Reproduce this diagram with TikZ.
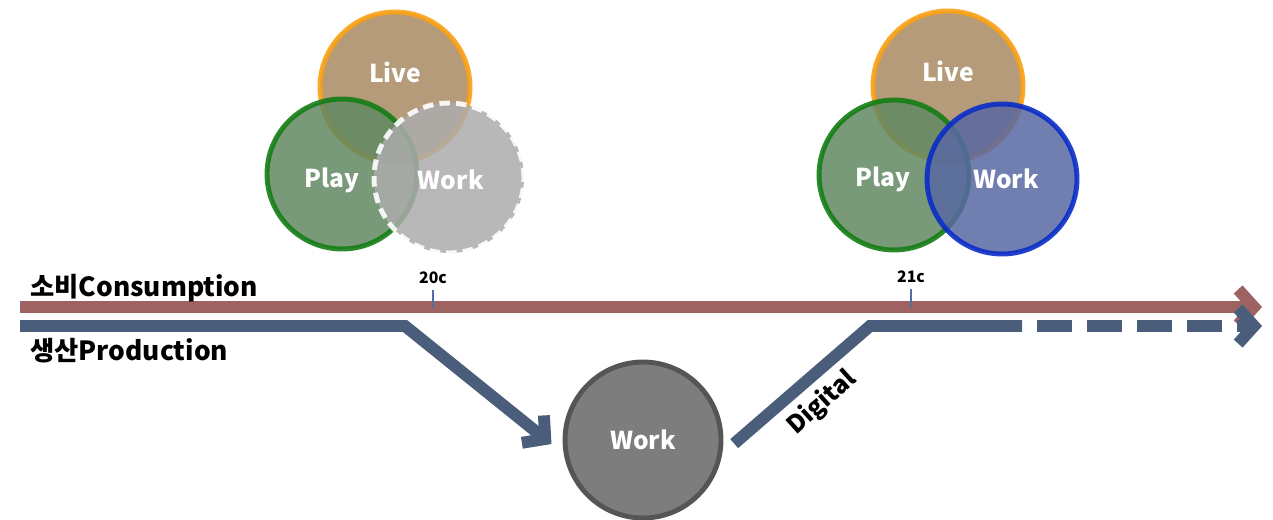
\documentclass[tikz,border=0pt]{standalone}
\usepackage{fontspec}
\setmainfont{Noto Sans CJK KR}
\usetikzlibrary{arrows.meta}

\definecolor{liveFill}{RGB}{168,138,98}
\definecolor{liveLine}{RGB}{250,160,20}
\definecolor{playFill}{RGB}{96,136,96}
\definecolor{playLine}{RGB}{20,125,20}
\definecolor{workGray}{RGB}{172,172,172}
\definecolor{workFill}{RGB}{88,104,162}
\definecolor{workLine}{RGB}{10,45,200}
\definecolor{lowFill}{RGB}{125,125,125}
\definecolor{lowLine}{RGB}{85,85,85}
\definecolor{consCol}{RGB}{158,98,98}
\definecolor{prodCol}{RGB}{74,94,124}
\definecolor{tickCol}{RGB}{80,110,170}

\tikzset{
  venn/.style={circle, inner sep=0pt, minimum size=3cm, line width=2.8pt,
    fill opacity=0.85, draw opacity=0.9},
  vtext/.style={text=white, text opacity=1, font=\bfseries\fontsize{14}{14}\selectfont},
  band/.style={line width=6.8pt, -{Straight Barb[length=9pt, width=20pt]}},
  axislabel/.style={anchor=west, font=\bfseries\fontsize{15}{15}\selectfont},
  century/.style={font=\bfseries\fontsize{9}{9}\selectfont},
  centtick/.style={tickCol, line width=0.6pt},
}

\begin{document}
\begin{tikzpicture}[x=0.02cm, y=-0.02cm]
    \useasboundingbox (0,0) rectangle (1273,520);

    % 20c: Live / Play / Work
    \node[venn, fill=liveFill, draw=liveLine, label={[vtext, yshift=8pt]center:Live}] (liveOld) at (395,87) {};
    \node[venn, fill=playFill, draw=playLine, label={[vtext, xshift=-5.7pt, yshift=-3.5pt]center:Play}] (playOld) at (342,174) {};
    \node[venn, fill=workGray, draw=white, dash pattern=on 6pt off 3.5pt,
      label={[vtext, xshift=1pt, yshift=-1pt]center:Work}] (workOld) at (449,178) {};

    % 21c: Live / Play / Work
    \node[venn, fill=liveFill, draw=liveLine, label={[vtext, yshift=8.5pt]center:Live}] (liveNew) at (948,86) {};
    \node[venn, fill=playFill, draw=playLine, label={[vtext, xshift=-6.3pt, yshift=-2.5pt]center:Play}] (playNew) at (894,175) {};
    \node[venn, fill=workFill, draw=workLine, label={[vtext, xshift=2.3pt]center:Work}] (workNew) at (1002,179) {};

    % Work below the time line
    \node[venn, vtext, minimum size=3.12cm, fill=lowFill, draw=lowLine,
      fill opacity=1, draw opacity=1] (workLow) at (643,440) {Work};

    % consumption line
    \coordinate (consStart) at (20,307);
    \coordinate (consEnd) at (1262,307);
    \draw[band, consCol] (consStart) -- (consEnd);

    % production line
    \coordinate (prodStart) at (20,326);
    \coordinate (prodFall) at (405,326);
    \coordinate (prodRise) at (870,326);
    \coordinate (prodDash) at (1022,326);
    \coordinate (prodEnd) at (1262,326);
    \draw[band, prodCol, shorten >=9pt] (prodStart) -- (prodFall) -- (workLow.190);
    \draw[line width=6.8pt, prodCol, shorten <=9pt] (workLow.-10) -- (prodRise) -- (prodDash);
    \draw[band, prodCol, dash pattern=on 20pt off 8.5pt, dash phase=20pt] (prodDash) -- (prodEnd);

    \node[axislabel] (consLabel) at (24,288) {소비Consumption};
    \node[axislabel] (prodLabel) at (24,351) {생산Production};
    \node[font=\bfseries\fontsize{14}{14}\selectfont, rotate=42] (digital) at (822,403) {Digital};

    % centuries
    \node[century] (c20) at (433,278) {20c};
    \node[century] (c21) at (911,277) {21c};
    \draw[centtick] (c20.south) -- ++(0,18);
    \draw[centtick] (c21.south) -- ++(0,18);
\end{tikzpicture}
\end{document}
